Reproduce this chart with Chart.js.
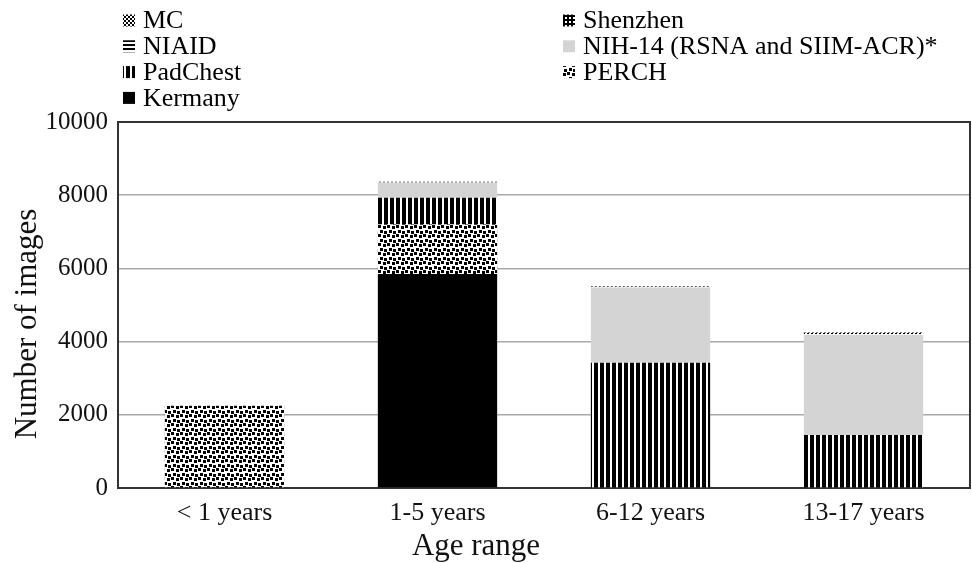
<!DOCTYPE html>
<html>
<head>
<meta charset="utf-8">
<script src="https://cdn.jsdelivr.net/npm/chart.js@4"></script>
<style>
  body { margin: 0; background: #fff; }
  #chart_container { width: 972px; height: 563px; }
</style>
</head>
<body>
<div id="chart_container"><canvas id="myChart"></canvas></div>
<script>
// categories and values (images per age range)
const ageRanges = ['< 1 years', '1-5 years', '6-12 years', '13-17 years'];
const kermany  = [0, 5850, 0, 0];
const perch    = [2250, 1350, 0, 0];
const padchest = [0, 730, 3420, 1450];
const nih14    = [0, 410, 2060, 2740];
const niaid    = [0, 10, 10, 20];
const shenzhen = [0, 20, 15, 25];
const mc       = [0, 0, 5, 15];
const yTicks   = [0, 2000, 4000, 6000, 8000, 10000];

const serif = 'Liberation Serif, Times New Roman, serif';

/* small repeating fills, like the office hatch patterns */
function makePattern(w, h, draw) {
  const c = document.createElement('canvas');
  c.width = w; c.height = h;
  const g = c.getContext('2d');
  g.fillStyle = '#fff';
  g.fillRect(0, 0, w, h);
  g.fillStyle = '#000';
  draw(g);
  return c.getContext('2d').createPattern(c, 'repeat');
}

const fillMC = makePattern(4, 4, g => { g.fillRect(0, 0, 2, 2); g.fillRect(2, 2, 2, 2); });
const fillShenzhen = makePattern(4, 4, g => { g.fillRect(0, 0, 4, 4); g.fillStyle = '#fff'; g.fillRect(1, 1, 2, 2); });
const fillNIAID = makePattern(4, 4, g => { g.fillRect(0, 0, 4, 2); });
const fillPadChest = makePattern(6, 6, g => { g.fillRect(0, 0, 4, 6); });
const fillPerch = makePattern(9, 9, g => {
  g.fillRect(0, 0, 3, 3);
  g.fillRect(5, 1, 3, 3);
  g.fillRect(2, 5, 3, 3);
  g.fillRect(6, 6, 3, 3);
});

// bottom of the stack first
const datasets = [
  { label: 'Kermany', data: kermany, backgroundColor: '#000' },
  { label: 'PERCH', data: perch, backgroundColor: fillPerch },
  { label: 'PadChest', data: padchest, backgroundColor: fillPadChest },
  { label: 'NIH-14 (RSNA and SIIM-ACR)*', data: nih14, backgroundColor: '#d4d4d4' },
  { label: 'NIAID', data: niaid, backgroundColor: fillNIAID },
  { label: 'Shenzhen', data: shenzhen, backgroundColor: fillShenzhen },
  { label: 'MC', data: mc, backgroundColor: fillMC }
];

/* two column legend above the plot, read row by row */
const twoColLegend = {
  id: 'twoColLegend',
  afterDraw(chart) {
    const ctx = chart.ctx;
    const items = chart.data.datasets.slice().reverse();
    const colX = [123, 563];
    ctx.save();
    ctx.font = '26px ' + serif;
    ctx.textBaseline = 'middle';
    items.forEach((ds, i) => {
      const col = i % 2;
      const row = Math.floor(i / 2);
      const x = colX[col];
      const y = 20.5 + row * 25.8;
      ctx.fillStyle = ds.backgroundColor;
      ctx.fillRect(x, y - 6, 12, 12);
      ctx.fillStyle = '#000';
      ctx.fillText(ds.label, x + 20, y + 1);
    });
    ctx.restore();
  }
};

/* frame on top and right, plus the two axis titles where the original put them */
const frameAndTitles = {
  id: 'frameAndTitles',
  afterDraw(chart) {
    const a = chart.chartArea;
    const ctx = chart.ctx;
    ctx.save();
    ctx.strokeStyle = '#333';
    ctx.lineWidth = 2;
    ctx.beginPath();
    ctx.moveTo(a.left, a.top);
    ctx.lineTo(a.right, a.top);
    ctx.lineTo(a.right, a.bottom);
    ctx.stroke();

    ctx.fillStyle = '#111';
    ctx.font = '31px ' + serif;
    ctx.textAlign = 'center';
    ctx.textBaseline = 'middle';
    ctx.fillText('Age range', 476, 547);
    ctx.translate(28, 324);
    ctx.rotate(-Math.PI / 2);
    ctx.fillText('Number of images', 0, 0);
    ctx.restore();
  }
};

const ctx = document.getElementById('myChart').getContext('2d');
const myChart = new Chart(ctx, {
  type: 'bar',
  data: { labels: ageRanges, datasets: datasets },
  plugins: [twoColLegend, frameAndTitles],
  options: {
    responsive: true,
    maintainAspectRatio: false,
    animation: false,
    categoryPercentage: 1,
    barPercentage: 0.56,
    layout: { padding: { top: 122, right: 2, left: 0, bottom: 0 } },
    plugins: {
      legend: { display: false },
      tooltip: { enabled: false }
    },
    scales: {
      x: {
        stacked: true,
        grid: { display: false, drawTicks: false },
        border: { color: '#333', width: 2 },
        ticks: { color: '#111', padding: 10, font: { family: serif, size: 26 } },
        afterFit(scale) { scale.height = 75; }
      },
      y: {
        stacked: true,
        min: 0,
        max: 10000,
        afterBuildTicks(scale) { scale.ticks = yTicks.map(v => ({ value: v })); },
        grid: { color: '#a8a8a8', lineWidth: 1.5, drawTicks: false },
        border: { color: '#333', width: 2 },
        ticks: {
          color: '#111',
          padding: 10,
          font: { family: serif, size: 25 },
          callback: v => String(v)
        },
        afterFit(scale) { scale.width = 118; }
      }
    }
  }
});
</script>
</body>
</html>
